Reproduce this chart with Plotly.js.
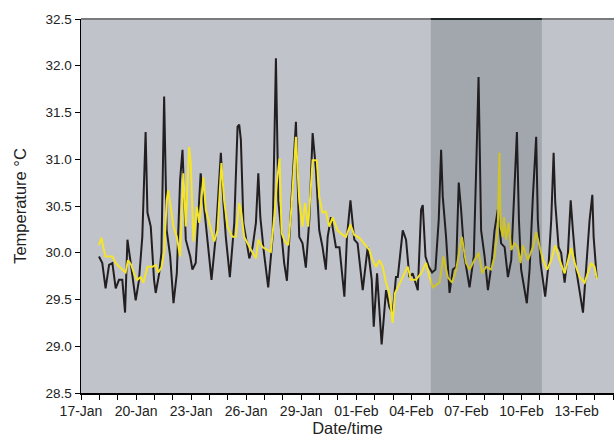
<!DOCTYPE html>
<html>
<head>
<meta charset="utf-8">
<script src="https://cdn.plot.ly/plotly-3.0.1.min.js"></script>
<style>html,body{margin:0;padding:0;background:#fff;}#chart{width:614px;height:437px;}</style>
</head>
<body>
<div id="chart"></div>
<script>
// Days since 17-Jan and temperatures (°C)
const blackDays = [0.98,1.16,1.34,1.53,1.71,1.89,2.07,2.25,2.40,2.53,2.71,2.98,3.16,3.34,3.52,3.62,3.80,3.98,4.07,4.26,4.38,4.53,4.67,4.86,5.04,5.22,5.40,5.53,5.71,5.95,6.07,6.25,6.52,6.67,6.80,7.11,7.34,7.62,7.76,7.89,8.11,8.35,8.53,8.62,8.71,8.85,9.17,9.35,9.53,9.66,9.77,9.95,10.20,10.44,10.62,10.75,11.07,11.22,11.53,11.71,11.89,12.07,12.25,12.44,12.62,12.80,12.98,13.16,13.34,13.44,13.62,13.89,14.08,14.35,14.49,14.68,14.89,15.07,15.35,15.62,15.84,15.95,16.13,16.26,16.38,16.62,16.80,16.98,17.16,17.26,17.53,17.71,17.89,18.07,18.35,18.53,18.62,18.77,18.95,19.13,19.31,19.49,19.62,19.71,19.89,20.08,20.26,20.44,20.58,20.71,20.89,21.17,21.40,21.53,21.66,21.80,21.99,22.17,22.35,22.53,22.71,22.89,23.08,23.26,23.44,23.62,23.75,23.86,23.98,24.29,24.44,24.62,24.80,24.89,25.04,25.29,25.48,25.62,25.75,25.84,26.02,26.16,26.35,26.53,26.68,26.80,26.98,27.35,27.53,27.71,27.86,27.93,28.10];
const blackTemp = [29.96,29.89,29.62,29.87,29.89,29.62,29.71,29.71,29.36,30.14,29.89,29.49,29.71,30.17,31.29,30.43,30.28,29.71,29.57,29.78,30.00,31.67,30.24,29.96,29.46,29.78,30.78,31.10,30.14,29.96,29.82,29.89,30.85,30.56,30.28,29.71,30.17,31.07,30.53,30.17,29.74,30.32,31.35,31.37,31.21,30.32,29.94,30.06,30.32,30.85,30.38,30.03,29.63,30.17,32.08,30.56,29.89,29.70,30.78,31.40,30.17,30.10,29.84,30.35,31.28,30.89,30.24,30.06,29.82,30.17,30.38,30.06,30.06,29.53,30.17,30.56,30.14,30.10,29.60,30.06,29.71,29.21,29.78,29.31,29.02,29.60,29.42,29.35,29.74,29.74,30.24,30.14,29.74,29.78,29.60,30.46,30.51,29.96,29.85,29.79,29.82,30.35,31.10,30.60,30.17,29.57,29.82,29.85,30.75,30.46,29.96,29.63,29.96,30.89,31.88,30.24,29.96,29.60,29.85,30.24,30.46,30.10,30.06,29.74,29.92,30.71,31.29,30.35,29.82,29.46,29.82,30.60,31.24,30.35,29.89,29.53,29.89,30.35,31.07,30.53,30.06,30.00,29.68,30.00,30.56,30.24,29.82,29.36,29.82,30.35,30.62,30.17,29.73];

const yellowDays = [0.98,1.11,1.25,1.34,1.71,1.89,2.25,2.43,2.56,2.74,2.92,3.07,3.25,3.40,3.62,3.89,4.07,4.20,4.38,4.53,4.67,4.75,4.89,5.04,5.22,5.40,5.58,5.71,5.89,5.98,6.13,6.31,6.44,6.67,6.80,6.98,7.26,7.44,7.65,7.80,7.98,8.25,8.43,8.62,8.71,8.89,9.17,9.35,9.53,9.66,9.89,10.16,10.34,10.53,10.67,10.82,10.93,11.11,11.29,11.47,11.71,11.89,12.07,12.20,12.38,12.62,12.85,12.98,13.16,13.34,13.53,13.71,13.98,14.26,14.44,14.68,14.89,15.17,15.53,15.71,15.89,16.07,16.26,16.44,16.62,16.80,16.98,17.11,17.26,17.53,17.80,17.98,18.25,18.53,18.80,18.99,19.17,19.53,19.75,19.98,20.22,20.44,20.75,20.98,21.17,21.35,21.67,21.86,22.07,22.35,22.53,22.71,22.80,22.86,22.98,23.04,23.16,23.30,23.44,23.62,23.80,23.95,24.07,24.35,24.62,24.80,24.99,25.17,25.40,25.62,25.84,26.08,26.35,26.53,26.71,26.90,27.17,27.44,27.62,27.80,27.98,28.11];
const yellowTemp = [30.08,30.16,30.03,29.96,29.96,29.89,29.82,29.79,29.92,29.87,29.76,29.71,29.74,29.68,29.85,29.85,29.87,29.79,29.84,30.00,30.56,30.67,30.49,30.28,30.17,29.96,30.85,30.28,31.13,30.96,30.12,30.49,30.32,30.81,30.46,30.32,30.12,30.24,30.96,30.56,30.28,30.17,30.17,30.53,30.46,30.17,30.06,30.00,29.94,30.14,30.06,30.03,30.01,30.38,30.75,31.01,30.21,30.12,30.08,30.49,31.24,30.56,30.28,30.53,30.28,30.99,30.99,30.60,30.43,30.44,30.28,30.38,30.24,30.19,30.17,30.30,30.19,30.16,30.08,30.03,29.92,29.85,29.92,29.85,29.68,29.57,29.25,29.57,29.63,29.74,29.85,29.71,29.71,29.78,29.89,29.74,29.63,29.68,29.96,29.74,29.68,29.82,30.17,29.89,29.82,29.89,30.00,29.78,29.85,29.82,29.96,30.28,31.07,30.28,30.17,30.38,30.14,30.32,30.03,30.10,30.06,29.89,30.08,29.92,30.06,30.22,30.06,29.92,29.82,29.92,30.08,29.92,29.78,29.92,30.05,29.89,29.74,29.68,29.78,29.89,29.85,29.72];

const shadeDays = [19.06, 25.11];
const rangeDays = [0, 29.04];
const yTicks = [28.5,29.0,29.5,30.0,30.5,31.0,31.5,32.0,32.5];

const DAY = 86400000;
const T0 = Date.UTC(2011,0,17);
const toT = d => T0 + d*DAY;

const traces = [
  {x: blackDays.map(toT), y: blackTemp, type:'scatter', mode:'lines',
   line:{color:'#231f20', width:2}, hoverinfo:'skip', showlegend:false},
  {x: yellowDays.map(toT), y: yellowTemp, type:'scatter', mode:'lines',
   line:{color:'#f4e52a', width:2}, hoverinfo:'skip', showlegend:false}
];

const layout = {
  width:614, height:437,
  margin:{l:81, r:0, t:19, b:44, pad:0},
  paper_bgcolor:'#ffffff',
  plot_bgcolor:'#c0c3ca',
  font:{family:'Liberation Sans, Arial, sans-serif', color:'#222', size:13},
  xaxis:{
    type:'date', range:[toT(rangeDays[0]), toT(rangeDays[1])],
    tick0: toT(0), dtick: 3*DAY, tickformat:'%d-%b',
    ticks:'outside', ticklen:5, tickwidth:1, tickcolor:'#000',
    minor:{dtick:DAY, ticks:'outside', ticklen:5, tickwidth:1, tickcolor:'#000', showgrid:false},
    showgrid:false, zeroline:false,
    showline:true, linecolor:'#000', linewidth:1.5,
    tickfont:{size:14, color:'#222'},
    title:{text:'Date/time', font:{size:16.5, color:'#222'}, standoff:3}
  },
  yaxis:{
    range:[28.5, 32.5], tickvals:yTicks, tickformat:'.1f',
    ticks:'outside', ticklen:5, tickwidth:1, tickcolor:'#000',
    showgrid:false, zeroline:false,
    showline:true, linecolor:'#000', linewidth:1.5,
    tickfont:{size:13.5, color:'#222'},
    title:{text:'Temperature °C', font:{size:16.5, color:'#222'}, standoff:14}
  },
  shapes:[
    {type:'rect', xref:'x', yref:'paper', x0:toT(shadeDays[0]), x1:toT(shadeDays[1]), y0:0, y1:1,
     fillcolor:'rgba(20,30,35,0.17)', line:{width:0}, layer:'above'},
    {type:'line', xref:'paper', yref:'paper', x0:0, x1:1, y0:1, y1:1,
     line:{color:'#7a7a7e', width:2}, layer:'above'},
    {type:'line', xref:'x', yref:'paper', x0:toT(shadeDays[0]), x1:toT(shadeDays[1]), y0:1, y1:1,
     line:{color:'#1f2828', width:2}, layer:'above'}
  ]
};

Plotly.newPlot('chart', traces, layout, {displayModeBar:false, staticPlot:true});
</script>
</body>
</html>
